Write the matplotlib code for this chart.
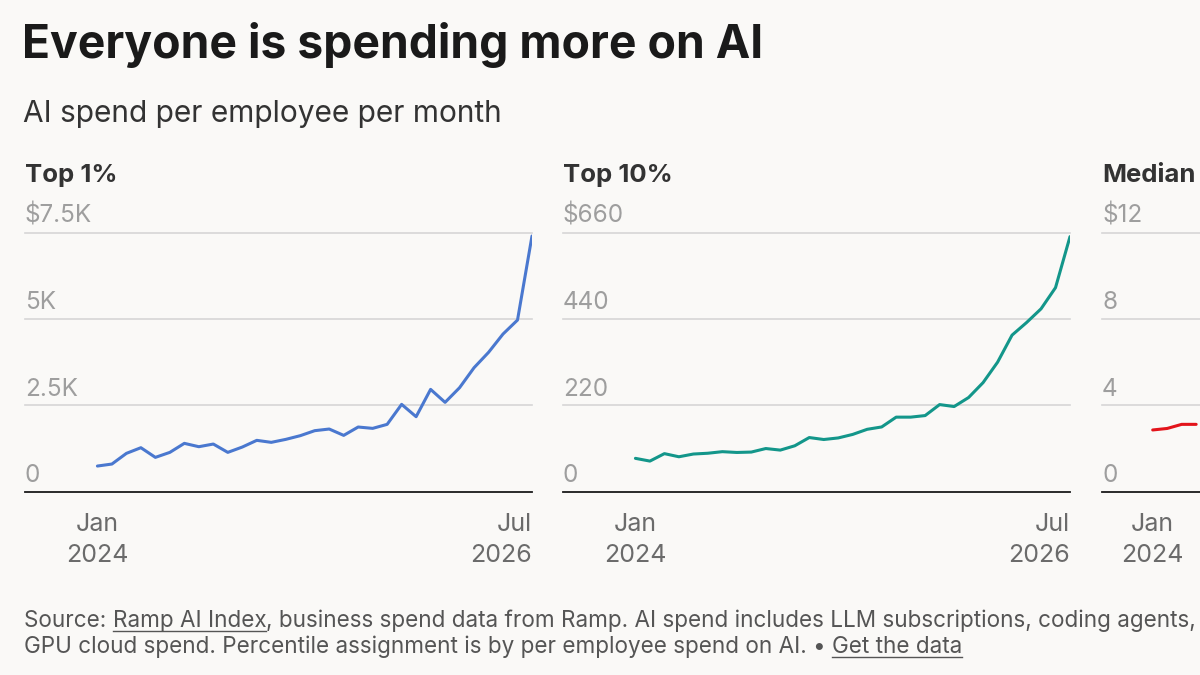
import matplotlib.pyplot as plt
import matplotlib.transforms as mtransforms
from matplotlib.lines import Line2D

# monthly index, 0 = Jan 2024 ... 30 = Jul 2026
months = list(range(31))

top1 = [743, 801, 1110, 1274, 994, 1139, 1400, 1303, 1380, 1139, 1293,
        1487, 1429, 1515, 1622, 1767, 1815, 1631, 1873, 1834, 1950, 2529,
        2172, 2963, 2587, 3012, 3591, 4035, 4566, 4971, 7404]
top10 = [85, 78, 97, 89, 96, 98, 102, 100, 101, 110, 106, 117, 138, 133,
         137, 146, 159, 165, 190, 190, 194, 222, 217, 240, 278, 330, 399,
         431, 466, 520, 650]
# only the first months of the median panel are visible
median_months = [0, 1, 2, 3]
median = [2.86, 2.93, 3.12, 3.12]

panel_titles = ["Top 1%", "Top 10%", "Median"]
panel_ticks = [[0, 2500, 5000, 7500], [0, 220, 440, 660], [0, 4, 8, 12]]
panel_ticklabels = [["0", "2.5K", "5K", "$7.5K"], ["0", "220", "440", "$660"],
                    ["0", "4", "8", "$12"]]
xtick_pos = [0, 30]
xtick_labels = [("Jan", "2024"), ("Jul", "2026")]

colors = ["#4a78cf", "#13968a", "#e3141b"]
bg = "#faf9f7"
plt.rcParams["font.family"] = ["Inter", "DejaVu Sans"]

W, H = 1200, 675
fig = plt.figure(figsize=(W / 100, H / 100), dpi=100, facecolor=bg)


def px(x, y):
    return x / W, 1 - y / H


fig.text(*px(22, 58), "Everyone is spending more on AI", fontsize=33.3,
         fontweight="bold", color="#1a1a1a", va="baseline")
fig.text(*px(23, 122), "AI spend per employee per month", fontsize=21.5,
         color="#333333", va="baseline")

series = [(months, top1), (months, top10), (median_months, median)]
lefts = [25, 563, 1102]
xlims = [(-5, 30), (-5, 30), (-3.5, 31.5)]
ax_w, top, bottom = 507, 232.7, 491.7

for i, (xs, ys) in enumerate(series):
    ax = fig.add_axes([lefts[i] / W, 1 - bottom / H, ax_w / W, (bottom - top) / H])
    ax.set_facecolor("none")
    ax.plot(xs, ys, color=colors[i], lw=2.2, solid_joinstyle="round",
            solid_capstyle="round")
    ticks = panel_ticks[i]
    ax.set_xlim(*xlims[i])
    ax.set_ylim(0, ticks[-1])
    for spine in ax.spines.values():
        spine.set_visible(False)
    ax.set_xticks([])
    ax.set_yticks([])
    for t in ticks[1:]:
        ax.axhline(t, color="#d6d6d6", lw=1.2, clip_on=False, zorder=0)
    ax.axhline(0, color="#1a1a1a", lw=1.3, clip_on=False, zorder=3)

    ytr = mtransforms.blended_transform_factory(ax.transAxes, ax.transData)
    for t, lab in zip(ticks, panel_ticklabels[i]):
        ax.annotate(lab, xy=(0, t), xycoords=ytr, xytext=(0, 7),
                    textcoords="offset points", fontsize=17.5, color="#9e9e9e",
                    va="baseline", ha="left", annotation_clip=False)

    xtr = mtransforms.blended_transform_factory(ax.transData, ax.transAxes)
    for j, (pos, (m, yr)) in enumerate(zip(xtick_pos, xtick_labels)):
        if pos > xlims[i][1]:
            continue
        if i == 2 and j == 1:
            continue  # off the right edge of the picture
        ha = "center" if j == 0 else "right"
        for lab, off in ((m, -28.5), (yr, -50.5)):
            ax.annotate(lab, xy=(pos, 0), xycoords=xtr, xytext=(0, off),
                        textcoords="offset points", fontsize=18,
                        color="#6b6b6b", va="baseline", ha=ha,
                        annotation_clip=False)

    fig.text(*px(lefts[i], 182), panel_titles[i], fontsize=18.5,
             fontweight="bold", color="#333333", va="baseline")

# footer with underlined links
renderer = fig.canvas.get_renderer()
inv = fig.transFigure.inverted()


def text_run(x, y, pieces):
    fx, fy = px(x, y)
    for s, underline in pieces:
        t = fig.text(fx, fy, s, fontsize=16.2, color="#555555", va="baseline")
        bb = t.get_window_extent(renderer)
        if underline:
            x0 = inv.transform((bb.x0, 0))[0]
            x1 = inv.transform((bb.x1, 0))[0]
            yy = fy - 4 / H
            fig.add_artist(Line2D([x0, x1], [yy, yy], color="#555555", lw=1.0,
                                  transform=fig.transFigure))
        fx = inv.transform((bb.x1, 0))[0]


text_run(24, 627, [("Source: ", False), ("Ramp AI Index", True),
                   (", business spend data from Ramp. AI spend includes LLM "
                    "subscriptions, coding agents,", False)])
text_run(24, 653, [("GPU cloud spend. Percentile assignment is by per employee "
                    "spend on AI. \u2022 ", False), ("Get the data", True)])

fig.savefig("out.png", dpi=100, facecolor=bg)
